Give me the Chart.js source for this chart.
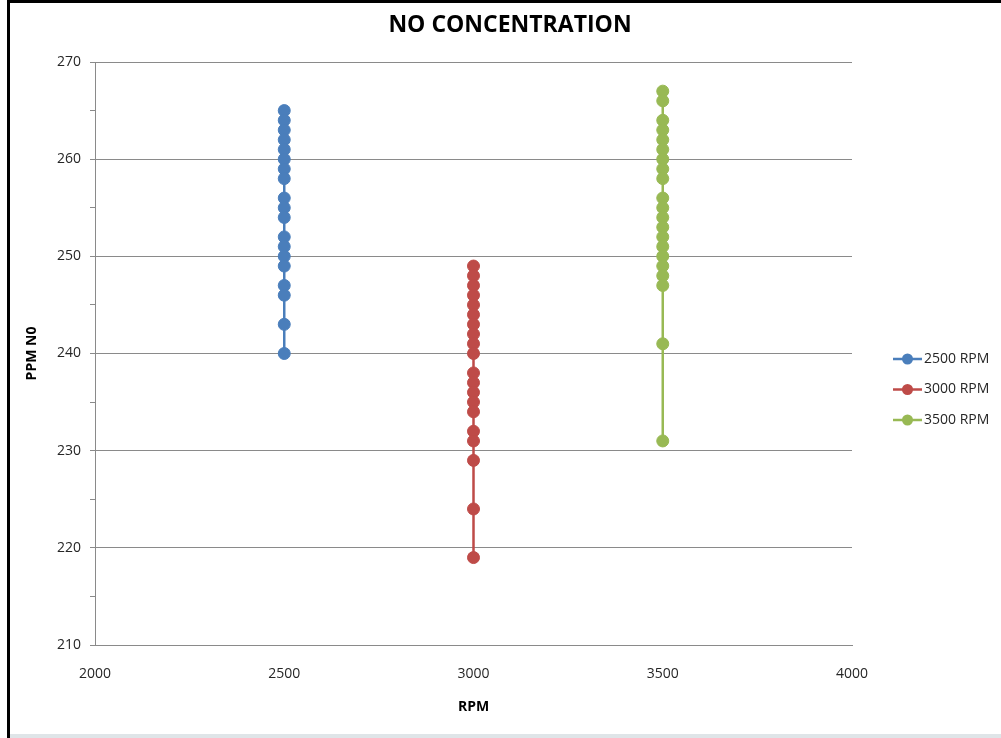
<!DOCTYPE html>
<html lang="en">
<head>
<meta charset="UTF-8">
<title>NO Concentration</title>
<script src="https://cdn.jsdelivr.net/npm/chart.js"></script>
<style>
  html, body { margin: 0; padding: 0; background: #fff; }
  #wrap { position: relative; width: 1001px; height: 738px; overflow: hidden; }
  #chart { position: absolute; left: 0; top: 0; }
  .edge-top { position: absolute; left: 7px; top: 0; width: 994px; height: 3px; background: #000; }
  .edge-left { position: absolute; left: 7px; top: 0; width: 3px; height: 738px; background: #000; }
  .edge-bottom { position: absolute; left: 10px; top: 734px; width: 991px; height: 4px; background: #dfe5e8; }
</style>
</head>
<body>
<div id="wrap">
  <canvas id="chart" width="1001" height="738"></canvas>
  <div class="edge-top"></div>
  <div class="edge-left"></div>
  <div class="edge-bottom"></div>
</div>
<script>
// values
const chartTitle = 'NO CONCENTRATION';
const seriesNames = ['2500 RPM', '3000 RPM', '3500 RPM'];
const rpm = [2500, 3000, 3500];
const ppm2500 = [265, 264, 263, 262, 261, 260, 259, 258, 256, 255, 254, 252, 251, 250, 249, 247, 246, 243, 240];
const ppm3000 = [249, 248, 247, 246, 245, 244, 243, 242, 241, 240, 238, 237, 236, 235, 234, 232, 231, 229, 224, 219];
const ppm3500 = [267, 266, 264, 263, 262, 261, 260, 259, 258, 256, 255, 254, 253, 252, 251, 250, 249, 248, 247, 241, 231];
const colors = ['#4a7ebb', '#be4b48', '#98b954'];
const xTicks = [2000, 2500, 3000, 3500, 4000];
const yTicks = [210, 220, 230, 240, 250, 260, 270];

const gridGray = '#8a8a8a';
const textColor = '#262626';

function pts(x, ys) {
  return ys.map(y => ({ x: x, y: y }));
}

const allPpm = [ppm2500, ppm3000, ppm3500];
const datasets = seriesNames.map((name, i) => ({
  label: name,
  data: pts(rpm[i], allPpm[i]),
  showLine: true,
  borderColor: colors[i],
  backgroundColor: colors[i],
  borderWidth: 2.5,
  pointRadius: 6,
  pointBorderWidth: 1,
  pointBorderColor: colors[i]
}));

// title over the whole sheet + Excel style legend on the right
const sheetDecor = {
  id: 'sheetDecor',
  afterDraw(chart) {
    const ctx = chart.ctx;
    ctx.save();
    ctx.fillStyle = '#000';
    ctx.font = 'bold 23px "Open Sans"';
    ctx.textAlign = 'center';
    ctx.textBaseline = 'middle';
    ctx.fillText(chartTitle, 510, 25);

    chart.data.datasets.forEach((ds, i) => {
      const y = 359 + i * 30.5;
      ctx.strokeStyle = ds.borderColor;
      ctx.lineWidth = 2.5;
      ctx.beginPath();
      ctx.moveTo(893, y);
      ctx.lineTo(922, y);
      ctx.stroke();
      ctx.fillStyle = ds.borderColor;
      ctx.beginPath();
      ctx.arc(907.5, y, 5.5, 0, Math.PI * 2);
      ctx.fill();
      ctx.fillStyle = textColor;
      ctx.font = '14px "Open Sans"';
      ctx.textAlign = 'left';
      ctx.textBaseline = 'middle';
      ctx.fillText(ds.label, 924, y);
    });
    ctx.restore();
  }
};

new Chart(document.getElementById('chart'), {
  type: 'scatter',
  data: { datasets: datasets },
  plugins: [sheetDecor],
  options: {
    responsive: false,
    animation: false,
    layout: { padding: { left: 0, right: 149, top: 62, bottom: 0 } },
    plugins: {
      legend: { display: false },
      tooltip: { enabled: false },
      title: { display: false }
    },
    scales: {
      x: {
        type: 'linear',
        min: xTicks[0],
        max: xTicks[xTicks.length - 1],
        afterBuildTicks: s => { s.ticks = xTicks.map(v => ({ value: v })); },
        afterFit: s => { s.height = 93; },
        grid: { display: false, drawTicks: false },
        border: { display: true, color: gridGray, width: 1 },
        ticks: {
          padding: 21,
          color: textColor,
          font: { family: 'Open Sans', size: 14 },
          callback: v => String(v)
        },
        title: {
          display: true,
          text: 'RPM',
          color: '#000',
          font: { family: 'Open Sans', size: 14, weight: 'bold' },
          padding: { top: 0, bottom: 23 }
        }
      },
      y: {
        min: yTicks[0],
        max: yTicks[yTicks.length - 1],
        afterBuildTicks: s => {
          const t = [];
          for (let v = yTicks[0]; v <= yTicks[yTicks.length - 1]; v += 5) t.push({ value: v });
          s.ticks = t;
        },
        afterFit: s => { s.width = 95; },
        grid: {
          color: c => (c.tick && yTicks.includes(c.tick.value)) ? gridGray : 'rgba(0,0,0,0)',
          tickColor: gridGray,
          tickLength: 5,
          lineWidth: 1
        },
        border: { display: true, color: gridGray, width: 1 },
        ticks: {
          padding: 9,
          color: textColor,
          font: { family: 'Open Sans', size: 14 },
          callback: v => yTicks.includes(v) ? String(v) : ''
        },
        title: {
          display: true,
          text: 'PPM N0',
          color: '#000',
          font: { family: 'Open Sans', size: 14, weight: 'bold' },
          padding: { top: 24, bottom: 0 }
        }
      }
    }
  }
});
</script>
</body>
</html>
